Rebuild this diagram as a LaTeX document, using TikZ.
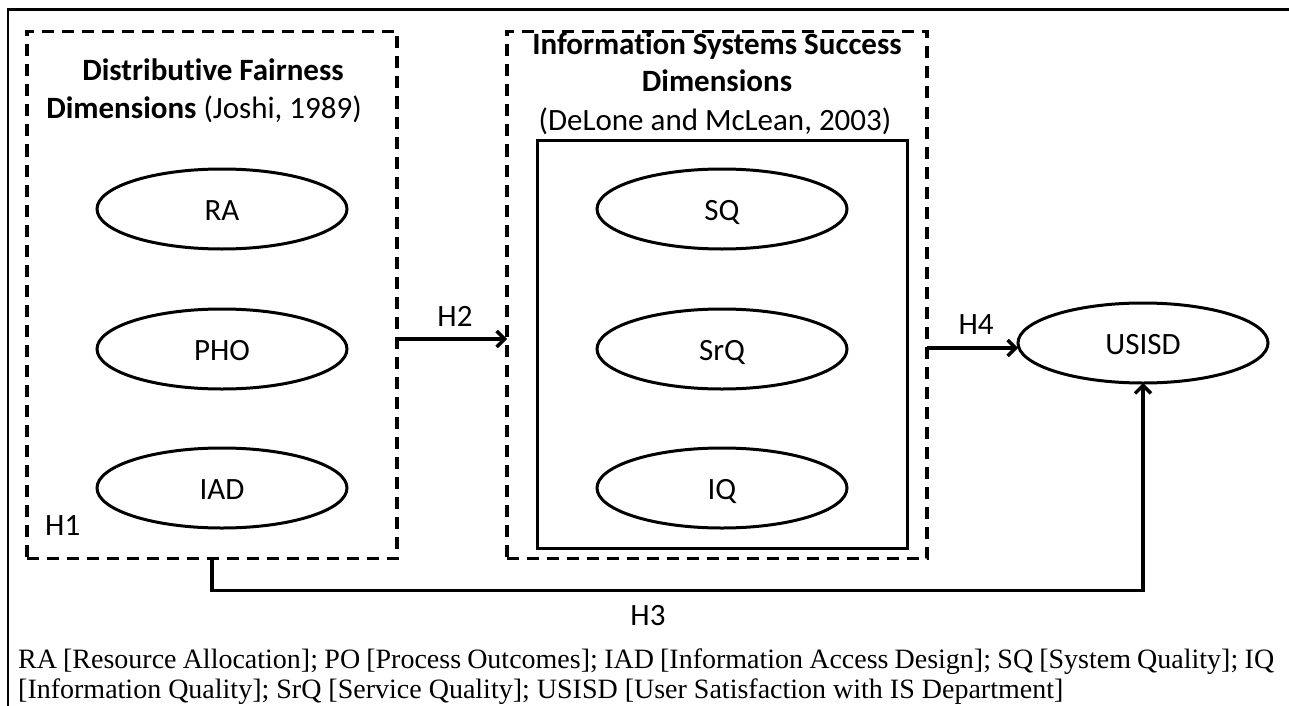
\documentclass[tikz,border=0pt]{standalone}
\usepackage{fontspec}
\setmainfont{Carlito}[Ligatures={NoCommon,NoContextual}]
\newfontfamily\capfont{Liberation Serif}
\usetikzlibrary{arrows.meta,shapes.geometric}
\tikzset{
  oval/.style={draw, ellipse, line width=3pt, minimum width=250pt, minimum height=80pt, inner sep=0pt, outer sep=0pt, text height=23pt, text depth=0pt, font=\fontsize{31}{37}\selectfont},
  dashbox/.style={draw, line width=3.5pt, dash pattern=on 12pt off 8pt, inner sep=0pt, outer sep=0pt},
  solidbox/.style={draw, line width=3pt, inner sep=0pt, outer sep=0pt},
  title/.style={anchor=base, inner sep=0pt, font=\fontsize{31}{37}\selectfont},
  hlab/.style={anchor=base, inner sep=0pt, font=\fontsize{31}{37}\selectfont},
  arr/.style={line width=3.5pt, -{Straight Barb[length=8pt,width=16pt,line width=3.5pt]}},
  capt/.style={anchor=base west, inner sep=0pt, font=\capfont\fontsize{28}{30}\selectfont}
}
\begin{document}
\begin{tikzpicture}[x=1pt,y=-1pt]
\useasboundingbox (0,0) rectangle (1289,706);
% outer frame
\draw[line width=2pt] (8,706) -- (8,10);
\draw[line width=3pt] (7,10) -- (1289,10);
% boxes
\node[dashbox, minimum width=370pt, minimum height=527pt] (dfbox) at (212,295) {};
\node[dashbox, minimum width=420pt, minimum height=527pt] (isbox) at (717,295) {};
\node[solidbox, minimum width=370pt, minimum height=408pt] (inbox) at (722,344) {};
% titles
\node[title] (t1) at (213,81) {\textbf{Distributive Fairness}};
\node[title] (t2) at (204,118) {\textbf{Dimensions} (Joshi, 1989)};
\node[title] (t3) at (717,55) {\textbf{Information Systems Success}};
\node[title] (t4) at (717,92) {\textbf{Dimensions}};
\node[title] (t5) at (715,131) {(DeLone and McLean, 2003)};
% ellipses
\node[oval] (ra) at (222,209) {RA};
\node[oval] (pho) at (222,349) {PHO};
\node[oval] (iad) at (222,488) {IAD};
\node[oval] (sq) at (722,209) {SQ};
\node[oval] (srq) at (722,349) {SrQ};
\node[oval] (iq) at (722,488) {IQ};
\node[oval] (usisd) at (1143,343) {USISD};
% connectors
\coordinate (h2y) at (0,339);
\coordinate (h4y) at (0,348);
\draw[arr] (dfbox.east |- h2y) -- (isbox.west |- h2y);
\draw[arr] (isbox.east |- h4y) -- (usisd.west |- h4y);
\draw[arr] (dfbox.south) -- ++(0,32) -| (usisd.south);
% labels
\node[hlab, anchor=base west] (h1) at (45,535) {H1};
\node[hlab] (h2) at (455,326) {H2};
\node[hlab] (h4) at (976,334) {H4};
\node[hlab] (h3) at (648,625) {H3};
% caption
\node[capt] (c1) at (18,668) {\makebox[1256pt][s]{RA [Resource Allocation]; PO [Process Outcomes]; IAD [Information Access Design]; SQ [System Quality]; IQ}};
\node[capt] (c2) at (18,698) {[Information Quality]; SrQ [Service Quality]; USISD [User Satisfaction with IS Department]};
\end{tikzpicture}
\end{document}
